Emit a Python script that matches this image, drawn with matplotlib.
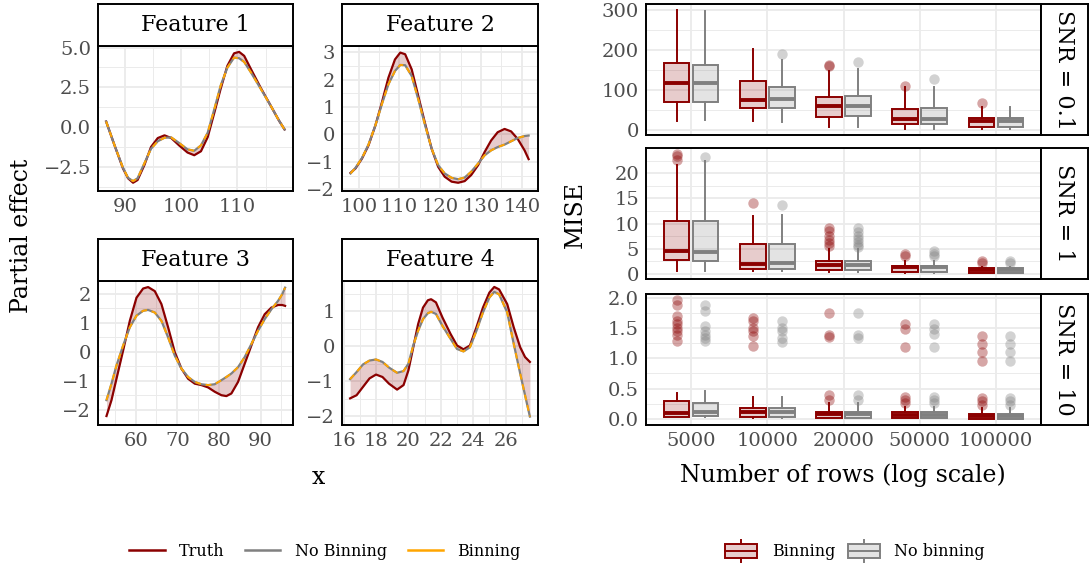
import matplotlib
matplotlib.use("Agg")
import matplotlib.pyplot as plt
from matplotlib.lines import Line2D
from matplotlib.patches import Rectangle
from matplotlib.legend_handler import HandlerBase
from matplotlib.ticker import FixedLocator
import numpy as np

plt.rcParams['font.family'] = ['DejaVu Serif']

# ---------------- partial effect curves ----------------
f1_x = [86.6, 88.1, 89.6, 90.5, 91.4, 92.2, 93.4, 94.6, 95.8, 97.0, 98.2, 99.6, 101.1, 102.3,
        103.5, 104.7, 105.9, 107.0, 108.2, 109.4, 110.3, 111.2, 112.4, 114.1, 115.9, 117.4, 118.4]
f1_truth = [0.35, -1.15, -2.6, -3.22, -3.5, -3.33, -2.4, -1.25, -0.69, -0.52, -0.69, -1.15, -1.6, -1.77,
            -1.52, -0.63, 0.93, 2.4, 3.85, 4.64, 4.73, 4.48, 3.65, 2.5, 1.36, 0.41, -0.15]
f1_nobin = [0.35, -1.15, -2.56, -3.19, -3.4, -3.22, -2.29, -1.36, -0.89, -0.67, -0.65, -1.0, -1.4, -1.49,
            -1.15, -0.35, 1.15, 2.6, 3.74, 4.37, 4.33, 4.1, 3.44, 2.44, 1.36, 0.41, -0.15]
f1_bin = [0.35, -1.15, -2.56, -3.19, -3.4, -3.22, -2.29, -1.36, -0.89, -0.67, -0.65, -1.0, -1.4, -1.49,
          -1.15, -0.35, 1.15, 2.6, 3.74, 4.37, 4.33, 4.1, 3.44, 2.44, 1.36, 0.41, -0.15]

f2_x = [98.0, 99.2, 100.8, 102.4, 104.1, 105.7, 107.3, 108.9, 110.2, 111.4, 113.0, 114.6, 116.3, 117.9,
        119.5, 121.1, 122.8, 124.4, 126.0, 127.6, 129.3, 130.9, 132.5, 134.1, 135.8, 137.4, 139.0,
        140.7, 141.7]
f2_truth = [-1.4, -1.24, -0.88, -0.4, 0.33, 1.17, 2.07, 2.73, 2.98, 2.92, 2.37, 1.41, 0.39, -0.52,
            -1.18, -1.54, -1.72, -1.76, -1.7, -1.48, -1.12, -0.64, -0.22, 0.08, 0.2, 0.11, -0.16,
            -0.58, -0.9]
f2_nobin = [-1.42, -1.22, -0.86, -0.37, 0.33, 1.11, 1.83, 2.31, 2.53, 2.52, 2.13, 1.29, 0.33, -0.52,
            -1.12, -1.42, -1.58, -1.63, -1.57, -1.36, -1.06, -0.76, -0.58, -0.46, -0.37, -0.25, -0.13,
            -0.06, -0.04]
f2_bin = [-1.42, -1.22, -0.86, -0.37, 0.33, 1.11, 1.83, 2.31, 2.53, 2.52, 2.13, 1.29, 0.33, -0.52,
          -1.12, -1.42, -1.58, -1.63, -1.57, -1.36, -1.06, -0.76, -0.58, -0.46, -0.37, -0.25, -0.13,
          -0.06, -0.04]

f3_x = [53.0, 54.2, 55.4, 57.0, 58.6, 60.2, 61.8, 63.0, 64.6, 66.2, 67.8, 69.4, 71.0, 72.6, 74.2,
        75.8, 77.4, 79.0, 80.6, 81.8, 83.0, 84.6, 86.2, 87.8, 89.4, 91.0, 92.6, 94.2, 95.2, 95.9]
f3_truth = [-2.22, -1.67, -0.93, 0.05, 1.07, 1.87, 2.19, 2.24, 2.1, 1.65, 0.85, -0.01, -0.58, -0.93, -1.1,
            -1.15, -1.23, -1.38, -1.5, -1.53, -1.44, -1.04, -0.41, 0.22, 0.85, 1.3, 1.53, 1.62, 1.62, 1.59]
f3_nobin = [-1.67, -1.1, -0.47, 0.22, 0.85, 1.25, 1.42, 1.45, 1.36, 1.07, 0.5, -0.13, -0.58, -0.87, -1.04,
            -1.12, -1.15, -1.12, -0.98, -0.87, -0.75, -0.53, -0.18, 0.27, 0.73, 1.13, 1.47, 1.76, 1.99, 2.22]
f3_bin = [-1.67, -1.1, -0.47, 0.22, 0.85, 1.25, 1.42, 1.45, 1.36, 1.07, 0.5, -0.13, -0.58, -0.87, -1.04,
          -1.12, -1.15, -1.12, -0.98, -0.87, -0.75, -0.53, -0.18, 0.27, 0.73, 1.13, 1.47, 1.76, 1.99, 2.22]

f4_x = [16.4, 16.8, 17.2, 17.6, 18.0, 18.4, 18.8, 19.3, 19.7, 20.0, 20.3, 20.6, 20.9, 21.2, 21.4, 21.7,
        22.1, 22.6, 23.0, 23.4, 23.8, 24.2, 24.6, 25.0, 25.3, 25.6, 26.1, 26.5, 26.9, 27.2, 27.5]
f4_truth = [-1.49, -1.4, -1.16, -0.92, -0.81, -0.88, -1.07, -1.24, -1.11, -0.69, -0.03, 0.63, 1.1, 1.31,
            1.34, 1.25, 0.82, 0.35, 0.02, -0.09, 0.02, 0.54, 1.1, 1.53, 1.69, 1.62, 1.2, 0.54, -0.03,
            -0.31, -0.45]
f4_nobin = [-0.94, -0.74, -0.52, -0.41, -0.38, -0.45, -0.61, -0.76, -0.71, -0.5, 0.02, 0.44, 0.77, 0.94,
            0.98, 0.92, 0.58, 0.21, -0.08, -0.15, -0.03, 0.44, 0.96, 1.39, 1.55, 1.48, 0.96, 0.07, -0.78,
            -1.4, -2.01]
f4_bin = [-0.94, -0.74, -0.52, -0.41, -0.38, -0.45, -0.61, -0.76, -0.71, -0.5, 0.02, 0.44, 0.77, 0.94,
          0.98, 0.92, 0.58, 0.21, -0.08, -0.15, -0.03, 0.44, 0.96, 1.39, 1.55, 1.48, 0.96, 0.07, -0.78,
          -1.4, -2.01]

feature_titles = ["Feature 1", "Feature 2", "Feature 3", "Feature 4"]
f1_xticks, f1_yticks = [90, 100, 110], [-2.5, 0.0, 2.5, 5.0]
f2_xticks, f2_yticks = [100, 110, 120, 130, 140], [-2, -1, 0, 1, 2, 3]
f3_xticks, f3_yticks = [60, 70, 80, 90], [-2, -1, 0, 1, 2]
f4_xticks, f4_yticks = [16, 18, 20, 22, 24, 26], [-2, -1, 0, 1]
f1_lims, f2_lims = ((85.15, 119.9), (-4.02, 5.1)), ((95.9, 144.0), (-2.06, 3.22))
f3_lims, f4_lims = ((50.96, 97.8), (-2.53, 2.45)), ((15.9, 28.0), (-2.25, 1.86))

# ---------------- MISE box summaries: [low whisker, q1, median, q3, high whisker] ----------------
row_counts = ["5000", "10000", "20000", "50000", "100000"]
snr_labels = ["SNR = 0.1", "SNR = 1", "SNR = 10"]

snr01_bin = [[21.7, 68.3, 116.7, 166.7, 300], [21.7, 54, 75, 121.7, 202.5], [6.7, 33, 59, 81.7, 148],
             [2.5, 15, 27.5, 53, 106.7], [1.7, 6.7, 21.7, 30, 58]]
snr01_nobin = [[23.3, 68.3, 116.7, 163, 296.7], [19, 54, 75.8, 106.7, 175], [6.7, 34, 60, 84, 152.5],
               [2.5, 14, 26, 55, 108], [1.7, 6, 21.7, 30, 58]]
snr01_bin_out = [[], [], [162, 159], [110], [67]]
snr01_nobin_out = [[], [190], [169], [126], []]

snr1_bin = [[0.5, 2.8, 4.5, 10.5, 21.7], [0.5, 1.0, 2.0, 5.9, 11.5], [0.3, 0.8, 1.8, 2.6, 4.9],
            [0.15, 0.3, 1.25, 1.6, 2.6], [0.1, 0.15, 0.65, 1.1, 1.3]]
snr1_nobin = [[0.5, 2.6, 4.3, 10.5, 22.4], [0.5, 1.0, 2.1, 5.9, 11.8], [0.3, 0.8, 1.8, 2.6, 4.9],
              [0.15, 0.3, 1.25, 1.6, 2.6], [0.1, 0.15, 0.65, 1.1, 1.3]]
snr1_bin_out = [[23.9, 23.4, 22.6], [14.1], [9.2, 8.5, 7.5, 6.8, 6.2, 5.6], [3.9, 3.5], [2.6, 2.2]]
snr1_nobin_out = [[23.2], [13.6], [9.2, 8.3, 7.6, 7.0, 6.4, 5.8, 5.4], [4.6, 3.9, 3.5], [2.6, 2.2]]

snr10_bin = [[0.03, 0.04, 0.1, 0.29, 0.43], [0.02, 0.03, 0.12, 0.19, 0.37], [0.01, 0.02, 0.09, 0.12, 0.26],
             [0.01, 0.01, 0.07, 0.11, 0.2], [0.0, 0.0, 0.05, 0.09, 0.18]]
snr10_nobin = [[0.03, 0.05, 0.11, 0.26, 0.46], [0.02, 0.03, 0.11, 0.19, 0.36], [0.01, 0.02, 0.08, 0.12, 0.27],
               [0.01, 0.01, 0.07, 0.11, 0.2], [0.0, 0.0, 0.05, 0.09, 0.19]]
snr10_bin_out = [[1.96, 1.88, 1.69, 1.61, 1.56, 1.5, 1.45, 1.39, 1.29],
                 [1.66, 1.61, 1.5, 1.45, 1.37, 1.21],
                 [1.75, 1.39, 1.35, 0.39, 0.31],
                 [1.56, 1.48, 1.18, 0.37, 0.31, 0.26],
                 [1.37, 1.23, 1.1, 0.96, 0.34, 0.29, 0.23]]
snr10_nobin_out = [[1.87, 1.77, 1.53, 1.45, 1.39, 1.34, 1.29],
                   [1.61, 1.5, 1.45, 1.34, 1.26],
                   [1.75, 1.39, 1.34, 0.39, 0.31],
                   [1.56, 1.48, 1.4, 1.18, 0.37, 0.31, 0.26],
                   [1.37, 1.23, 1.1, 0.96, 0.34, 0.29, 0.23]]

snr_yticks = [[0, 100, 200, 300], [0, 5, 10, 15, 20], [0.0, 0.5, 1.0, 1.5, 2.0]]

# ---------------- styling ----------------
TRUTH = '#8B0000'
NOBIN = '#808080'
BINNING = '#FFA500'
GRID = '#EBEBEB'
TICKC = '#4D4D4D'

W, H = 1091, 566
fig = plt.figure(figsize=(W / 100, H / 100), dpi=100)


def px_axes(x0, y0, x1, y1):
    return fig.add_axes([x0 / W, 1 - y1 / H, (x1 - x0) / W, (y1 - y0) / H])


def minor_between(ticks):
    step = ticks[1] - ticks[0]
    return [(a + b) / 2 for a, b in zip(ticks[:-1], ticks[1:])] + \
           [ticks[0] - step / 2, ticks[-1] + step / 2]


def style_panel(ax, xt, yt, xminor=True):
    ax.set_facecolor('white')
    ax.xaxis.set_major_locator(FixedLocator(xt))
    ax.yaxis.set_major_locator(FixedLocator(yt))
    if xminor:
        ax.xaxis.set_minor_locator(FixedLocator(minor_between(xt)))
    ax.yaxis.set_minor_locator(FixedLocator(minor_between(yt)))
    ax.grid(which='major', color=GRID, lw=1.3)
    ax.grid(which='minor', color=GRID, lw=0.7)
    if not xminor:
        ax.grid(which='minor', axis='x', visible=False)
    ax.set_axisbelow(True)
    ax.tick_params(which='both', length=0, labelsize=14, labelcolor=TICKC, pad=5)
    for s in ax.spines.values():
        s.set_color('black')
        s.set_linewidth(1.4)


def strip(x0, y0, x1, y1, text, rotation=0):
    s = px_axes(x0, y0, x1, y1)
    s.set_xticks([])
    s.set_yticks([])
    for sp in s.spines.values():
        sp.set_linewidth(1.4)
    s.text(0.5, 0.5, text, ha='center', va='center', fontsize=16, rotation=rotation,
           transform=s.transAxes)


panels = [
    ((98, 46, 293, 191), f1_x, f1_truth, f1_nobin, f1_bin, f1_xticks, f1_yticks, f1_lims),
    ((342, 46, 538, 191), f2_x, f2_truth, f2_nobin, f2_bin, f2_xticks, f2_yticks, f2_lims),
    ((98, 281, 293, 425), f3_x, f3_truth, f3_nobin, f3_bin, f3_xticks, f3_yticks, f3_lims),
    ((342, 281, 538, 425), f4_x, f4_truth, f4_nobin, f4_bin, f4_xticks, f4_yticks, f4_lims),
]

for title, (box, x, tr, nb, bn, xt, yt, lims) in zip(feature_titles, panels):
    x0, y0, x1, y1 = box
    ax = px_axes(x0, y0, x1, y1)
    ax.fill_between(x, tr, bn, color=TRUTH, alpha=0.2, lw=0)
    ax.plot(x, tr, color=TRUTH, lw=1.6, solid_joinstyle='round')
    ax.plot(x, nb, color=NOBIN, lw=1.6, solid_joinstyle='round')
    ax.plot(x, bn, color=BINNING, lw=1.4, dashes=(3, 2.5))
    ax.set_xlim(*lims[0])
    ax.set_ylim(*lims[1])
    style_panel(ax, xt, yt)
    strip(x0, y0 - 42, x1, y0, title)

fig.text(22 / W, 1 - 236 / H, "Partial effect", rotation=90, ha='center', va='center', fontsize=17)
fig.text(318 / W, 1 - 477 / H, "x", ha='center', va='center', fontsize=17)

# ---------------- MISE boxplots ----------------
pos = np.arange(1, len(row_counts) + 1)
box_rows = [(4, 135), (148, 279), (294, 425)]
series = [
    (snr01_bin, snr01_bin_out, snr01_nobin, snr01_nobin_out),
    (snr1_bin, snr1_bin_out, snr1_nobin, snr1_nobin_out),
    (snr10_bin, snr10_bin_out, snr10_nobin, snr10_nobin_out),
]


def to_stats(summary, outliers):
    return [dict(whislo=s[0], q1=s[1], med=s[2], q3=s[3], whishi=s[4], fliers=o)
            for s, o in zip(summary, outliers)]


def draw_boxes(ax, stats, positions, edge, fill):
    ax.bxp(stats, positions=positions, widths=0.34, patch_artist=True, showcaps=False,
           boxprops=dict(facecolor=fill, edgecolor=edge, lw=1.4),
           medianprops=dict(color=edge, lw=2.8, solid_capstyle='butt'),
           whiskerprops=dict(color=edge, lw=1.4),
           flierprops=dict(marker='o', markerfacecolor=edge, markeredgecolor='none',
                           alpha=0.35, markersize=7.5))


bin_fill = (139 / 255, 0, 0, 0.2)
nobin_fill = (0.5, 0.5, 0.5, 0.22)

for i, ((ya, yb), (bs, bo, ns, no), lab, yt) in enumerate(zip(box_rows, series, snr_labels, snr_yticks)):
    ax = px_axes(646, ya, 1041, yb)
    draw_boxes(ax, to_stats(bs, bo), pos - 0.19, TRUTH, bin_fill)
    draw_boxes(ax, to_stats(ns, no), pos + 0.19, NOBIN, nobin_fill)
    ax.set_xlim(0.41, 5.59)
    ax.margins(y=0.05)
    style_panel(ax, list(pos), yt, xminor=False)
    if i == 2:
        ax.set_xticklabels(row_counts)
    else:
        ax.set_xticklabels([])
    strip(1041, ya, 1088, yb, lab, rotation=-90)

fig.text(575 / W, 1 - 214 / H, "MISE", rotation=90, ha='center', va='center', fontsize=17)
fig.text(843 / W, 1 - 475 / H, "Number of rows (log scale)", ha='center', va='center', fontsize=17)

# ---------------- legends ----------------
line_handles = [Line2D([], [], color=TRUTH, lw=1.8),
                Line2D([], [], color=NOBIN, lw=1.8),
                Line2D([], [], color=BINNING, lw=1.8)]
fig.legend(line_handles, ["Truth", "No Binning", "Binning"], loc='center',
           bbox_to_anchor=(325 / W, 1 - 551 / H), ncol=3, frameon=False, fontsize=11.5,
           handlelength=2.2, columnspacing=1.3, handletextpad=0.9)


class BoxGlyph:
    def __init__(self, edge, fill):
        self.edge = edge
        self.fill = fill


class BoxGlyphHandler(HandlerBase):
    def create_artists(self, legend, orig, xdescent, ydescent, width, height, fontsize, trans):
        x0, y0 = -xdescent, -ydescent
        bot, top = y0 + 0.16 * height, y0 + 0.84 * height
        cx = x0 + width / 2
        rect = Rectangle((x0, bot), width, top - bot, facecolor=orig.fill,
                         edgecolor=orig.edge, lw=1.4, transform=trans)
        med = Line2D([x0, x0 + width], [y0 + 0.5 * height] * 2, color=orig.edge, lw=1.4, transform=trans)
        w1 = Line2D([cx, cx], [y0 - 0.05 * height, bot], color=orig.edge, lw=1.4, transform=trans)
        w2 = Line2D([cx, cx], [top, y0 + 1.05 * height], color=orig.edge, lw=1.4, transform=trans)
        return [w1, w2, rect, med]


bin_glyph = BoxGlyph(TRUTH, bin_fill)
nobin_glyph = BoxGlyph(NOBIN, nobin_fill)
fig.legend([bin_glyph, nobin_glyph], ["Binning", "No binning"], loc='center',
           bbox_to_anchor=(855 / W, 1 - 551 / H), ncol=2, frameon=False, fontsize=11.5,
           handlelength=2.0, handleheight=1.6, columnspacing=0.8, handletextpad=0.9,
           handler_map={BoxGlyph: BoxGlyphHandler()})

fig.savefig("out.png", dpi=100)
